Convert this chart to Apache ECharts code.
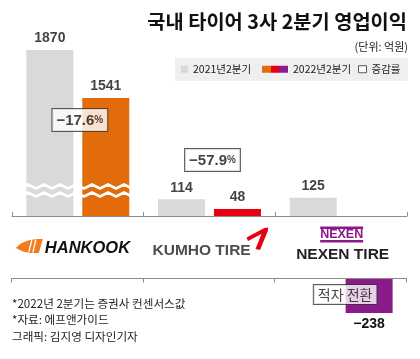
<!DOCTYPE html>
<html>
<head>
<meta charset="utf-8">
<script src="https://cdn.jsdelivr.net/npm/echarts@6/dist/echarts.min.js"></script>
<style>
  html, body { margin: 0; padding: 0; background: #fff; }
  #chart { width: 420px; height: 359px; }
</style>
</head>
<body>
<div id="chart"></div>
<script>
// 억원
const categories = ["한국타이어", "금호타이어", "넥센타이어"];
const profit2021 = [1870, 114, 125];
const profit2022 = [1541, 48, -238];
const changeRates = [-17.6, -57.9, null];
const changeNotes = [null, null, "적자 전환"];
const footnotes = ["*2022년 2분기는 증권사 컨센서스값", "*자료: 에프앤가이드", "그래픽: 김지영 디자인기자"];

const numFont = '"Liberation Sans", Arial, sans-serif';
const krFont = '"Noto Sans CJK KR", "Noto Sans", sans-serif';
const gray = "#d9d9d9";
const colors2022 = ["#e36c0a", "#e60012", "#8b1a8b"];
const axisColor = "#8c8c8c";

const minus = (v) => String(v).replace("-", "\u2212");
const pos = (arr) => arr.map((v) => (v >= 0 ? v : "-"));
const neg = (arr) => arr.map((v) => (v < 0 ? v : "-"));

const chart = echarts.init(document.getElementById("chart"));

const GRID_L = 12;
const GRID_R = 13;
const LOWER_TOP = 278; // lower panel: its top edge is the zero line
const BAR_W = 47;
const BAR_GAP = 0.19;
const barShift = (BAR_W * (1 + BAR_GAP)) / 2; // bar centre from category centre

const numStyle = { fontFamily: numFont, fontWeight: "bold", fontSize: 14, color: "#111" };

const boxStyle = {
  backgroundColor: "#fff",
  borderColor: "#333",
  borderWidth: 1,
  color: "#111",
};

// label anchor offsets (px)
const rateOffsets = [[2, 22], [3, -49]];
const noteOffsets = [null, null, [4, 16.5]];

const legendGradient = new echarts.graphic.LinearGradient(0, 0, 1, 0, [
  { offset: 0, color: colors2022[0] },
  { offset: 0.333, color: colors2022[0] },
  { offset: 0.333, color: colors2022[1] },
  { offset: 0.667, color: colors2022[1] },
  { offset: 0.667, color: colors2022[2] },
  { offset: 1, color: colors2022[2] },
]);

const legendText = { fontFamily: krFont, fontSize: 10.5, color: "#222" };
const legendBase = { top: 64, padding: 0, itemHeight: 7, textStyle: legendText };

const barBase = { type: "bar", barWidth: BAR_W, barGap: BAR_GAP * 100 + "%" };

// value labels above the positive bars, kept over the break lines
const topLabels = [];
profit2021.forEach((v, i) => {
  if (v >= 0) topLabels.push({ value: [i, v], label: { offset: [-barShift, 0] } });
});
profit2022.forEach((v, i) => {
  if (v >= 0) topLabels.push({ value: [i, v], label: { offset: [barShift, 0] } });
});

const hiddenValueAxis = {
  type: "value",
  axisLine: { show: false }, axisTick: { show: false },
  axisLabel: { show: false }, splitLine: { show: false },
};

// zero line of the lower panel, ticks at category boundaries
const band = (420 - GRID_L - GRID_R) / categories.length;
const lowerAxis = [
  {
    id: "lowerLine", type: "line", z: 1000,
    shape: { x1: GRID_L, y1: LOWER_TOP + 0.5, x2: GRID_L + categories.length * band, y2: LOWER_TOP + 0.5 },
    style: { stroke: axisColor, lineWidth: 1 },
  },
  ...[0, 1, 2, 3].map((k) => ({
    id: "lowerTick" + k, type: "line", z: 1000,
    shape: {
      x1: Math.round(GRID_L + k * band) - 0.5, y1: LOWER_TOP,
      x2: Math.round(GRID_L + k * band) - 0.5, y2: LOWER_TOP + 4.5,
    },
    style: { stroke: axisColor, lineWidth: 1 },
  })),
];

const legendBand = {
  id: "legendBand", type: "rect", z: -10,
  shape: { x: 175, y: 58, width: 233, height: 23 }, style: { fill: "#efefef" },
};

chart.setOption({
  animation: false,
  title: [
    {
      text: "국내 타이어 3사 2분기 영업이익",
      right: 13, top: 12, padding: 0,
      textStyle: { fontFamily: krFont, fontWeight: "bold", fontSize: 19.8, color: "#111" },
    },
    {
      text: "(단위: 억원)",
      right: 12, top: 41, padding: 0,
      textStyle: { fontFamily: krFont, fontWeight: "normal", fontSize: 11, color: "#222" },
    },
    {
      text: footnotes.join("\n"),
      left: 12, top: 295, padding: 0,
      textStyle: { fontFamily: krFont, fontWeight: "normal", fontSize: 11.6, lineHeight: 16.5, color: "#222" },
    },
  ],
  legend: [
    { ...legendBase, left: 181, itemWidth: 7, data: [{ name: "2021년2분기", icon: "rect" }] },
    {
      ...legendBase, left: 262, itemWidth: 26,
      data: [{ name: "2022년2분기", icon: "rect", itemStyle: { color: legendGradient } }],
    },
    {
      ...legendBase, left: 358, itemWidth: 8,
      data: [{ name: "증감률", icon: "rect", itemStyle: { color: "#fff", borderColor: "#333", borderWidth: 1 } }],
    },
  ],
  graphic: [legendBand, ...lowerAxis],
  grid: [
    { left: GRID_L, right: GRID_R, top: 50, bottom: 143, outerBoundsMode: "none" },
    { left: GRID_L, right: GRID_R, top: LOWER_TOP, height: 35, outerBoundsMode: "none" },
  ],
  xAxis: [
    {
      type: "category", gridIndex: 0, data: categories, position: "bottom",
      axisLine: { show: true, lineStyle: { color: axisColor, width: 1 } },
      axisTick: { show: true, inside: true, length: 4, lineStyle: { color: axisColor } },
      axisLabel: { show: false },
    },
    {
      type: "category", gridIndex: 1, data: categories,
      axisLine: { show: false }, axisTick: { show: false }, axisLabel: { show: false },
    },
  ],
  yAxis: [
    {
      ...hiddenValueAxis, gridIndex: 0, min: 0, max: 1870,
      breaks: [{ start: 148, end: 938, gap: "5%" }],
      breakArea: {
        show: true,
        itemStyle: { color: "rgba(255,255,255,0)", borderColor: "#fff", borderWidth: 2.6, borderType: "solid", opacity: 1 },
        zigzagAmplitude: 2,
        zigzagMinSpan: 8,
        zigzagMaxSpan: 8,
        zigzagZ: 100,
        expandOnClick: false,
      },
    },
    { ...hiddenValueAxis, gridIndex: 1, min: -238, max: 0 },
  ],
  series: [
    {
      ...barBase, name: "2021년2분기", xAxisIndex: 0, yAxisIndex: 0,
      data: pos(profit2021), itemStyle: { color: gray },
    },
    {
      ...barBase, name: "2022년2분기", xAxisIndex: 0, yAxisIndex: 0,
      data: pos(profit2022), itemStyle: { color: (p) => colors2022[p.dataIndex] },
    },
    {
      ...barBase, name: "2021년2분기", xAxisIndex: 1, yAxisIndex: 1,
      data: neg(profit2021), itemStyle: { color: gray },
    },
    {
      ...barBase, name: "2022년2분기", xAxisIndex: 1, yAxisIndex: 1,
      data: neg(profit2022), itemStyle: { color: (p) => colors2022[p.dataIndex] },
      label: { show: true, position: "bottom", distance: 4, formatter: (p) => minus(p.value), ...numStyle },
    },
    {
      type: "scatter", name: "값", xAxisIndex: 0, yAxisIndex: 0, z: 150, silent: true,
      symbolSize: 1, itemStyle: { color: "rgba(0,0,0,0)" },
      data: topLabels,
      label: { show: true, position: "top", distance: 4, formatter: (p) => minus(p.value[1]), ...numStyle },
    },
    {
      type: "scatter", name: "증감률", xAxisIndex: 0, yAxisIndex: 0, z: 150,
      symbolSize: 1, itemStyle: { color: "rgba(0,0,0,0)" },
      data: changeRates
        .map((r, i) => r == null ? null : {
          value: [i, profit2022[i]],
          label: { offset: rateOffsets[i], formatter: "{n|" + minus(r) + "}{p|%}" },
        })
        .filter(Boolean),
      label: {
        show: true, position: "inside", ...boxStyle, padding: [4, 4, 3, 4],
        rich: {
          n: { fontFamily: numFont, fontWeight: "bold", fontSize: 15, color: "#111" },
          p: { fontFamily: numFont, fontWeight: "bold", fontSize: 10, color: "#111" },
        },
      },
    },
    {
      type: "scatter", name: "증감률", xAxisIndex: 1, yAxisIndex: 1, z: 150,
      symbolSize: 1, itemStyle: { color: "rgba(0,0,0,0)" },
      data: changeNotes
        .map((t, i) => t == null ? null : {
          value: [i, 0],
          label: { offset: noteOffsets[i], formatter: t },
        })
        .filter(Boolean),
      label: {
        show: true, position: "inside", ...boxStyle, padding: [3, 4, 2, 4],
        fontFamily: krFont, fontSize: 14, fontWeight: "normal",
      },
    },
  ],
});

// company logos under the axis, placed from category centres
const at = (i) => chart.convertToPixel({ gridIndex: 0 }, [i, 0]);
const [hx, hy] = at(0);
const [kx, ky] = at(1);
const [nx, ny] = at(2);
const purple = "#8b1a8b";
const logoFont = '"Liberation Sans", Arial, sans-serif';

chart.setOption({
  graphic: [
    legendBand,
    ...lowerAxis,
    {
      id: "logoHankook", type: "group", x: hx, y: hy,
      children: [
        {
          type: "polygon",
          shape: { points: [[-62, 32], [-57, 27.5], [-50, 24.5], [-42, 23], [-35, 23], [-39, 37], [-47, 37], [-55, 35.5]] },
          style: { fill: "#f07c1b" },
        },
        { type: "line", shape: { x1: -46, y1: 24, x2: -49, y2: 36 }, style: { stroke: "#fff", lineWidth: 1.3 } },
        { type: "line", shape: { x1: -42, y1: 23.5, x2: -45, y2: 36.5 }, style: { stroke: "#fff", lineWidth: 1.3 } },
        {
          type: "text", x: -33, y: 32,
          style: { text: "HANKOOK", fontFamily: logoFont, fontWeight: "bold", fontStyle: "italic", fontSize: 16.5, fill: "#111", align: "left", verticalAlign: "middle" },
        },
      ],
    },
    {
      id: "logoKumho", type: "group", x: kx, y: ky,
      children: [
        {
          type: "text", x: -57, y: 35,
          style: { text: "KUMHO TIRE", fontFamily: logoFont, fontWeight: "bold", fontSize: 15.5, fill: "#4d4d4f", align: "left", verticalAlign: "middle" },
        },
        {
          type: "polygon",
          shape: { points: [[37, 21.5], [55, 12], [58.5, 11.5], [58.5, 14.5], [50.5, 34], [46, 33], [52, 18], [38.5, 25]] },
          style: { fill: "#e60012" },
        },
      ],
    },
    {
      id: "logoNexen", type: "group", x: nx, y: ny,
      children: [
        { type: "rect", shape: { x: -21, y: 10.5, width: 43, height: 2.5 }, style: { fill: purple } },
        { type: "rect", shape: { x: -21, y: 24, width: 43, height: 2.5 }, style: { fill: purple } },
        {
          type: "text", x: 0.5, y: 18.8,
          style: { text: "NEXEN", fontFamily: logoFont, fontWeight: "bold", fontSize: 12.5, fill: purple, align: "center", verticalAlign: "middle" },
        },
        {
          type: "text", x: 1.5, y: 38.5,
          style: { text: "NEXEN TIRE", fontFamily: logoFont, fontWeight: "bold", fontSize: 15.5, fill: "#231f20", align: "center", verticalAlign: "middle" },
        },
      ],
    },
  ],
});
</script>
</body>
</html>
